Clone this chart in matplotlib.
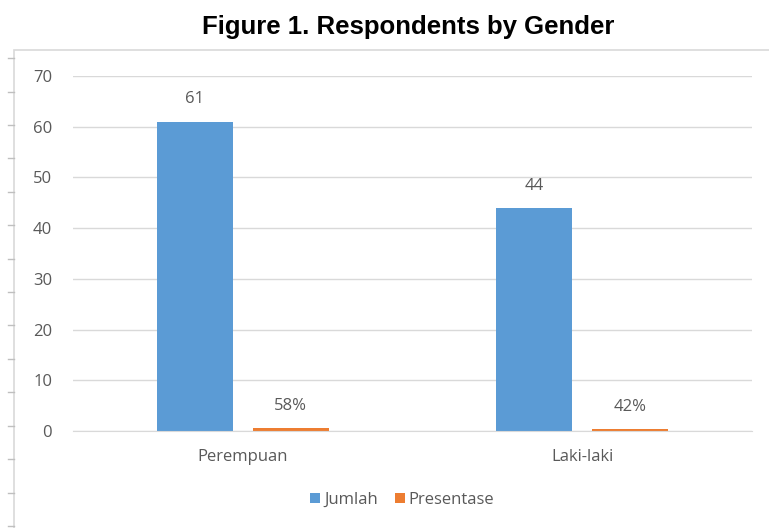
import matplotlib.pyplot as plt
import numpy as np
from matplotlib.patches import Rectangle
from matplotlib.lines import Line2D

# data
categories = ['Perempuan', 'Laki-laki']
jumlah = [61, 44]
presentase = [0.58, 0.42]

blue = '#5B9BD5'
orange = '#ED7D31'
grey_txt = '#595959'

plt.rcParams['font.family'] = ['Open Sans', 'DejaVu Sans']

fig = plt.figure(figsize=(7.69, 5.28), dpi=100)
ax = fig.add_axes([0.0949, 0.1837, 0.883, 0.6723])

x = np.arange(len(categories))
w = 0.224
off = 0.1416
b1 = ax.bar(x - off, jumlah, w, color=blue, label='Jumlah', zorder=3)
b2 = ax.bar(x + off, presentase, w, color=orange, label='Presentase', zorder=3)

for rect, v in zip(b1, jumlah):
    ax.text(rect.get_x() + rect.get_width() / 2, v + 2.8, str(v),
            ha='center', va='bottom', fontsize=12, color=grey_txt)
for rect, v in zip(b2, presentase):
    ax.text(rect.get_x() + rect.get_width() / 2, v + 2.8, f'{v:.0%}',
            ha='center', va='bottom', fontsize=12, color=grey_txt)

ax.set_xlim(-0.5, 1.5)
ax.set_ylim(0, 70)
ax.set_yticks(range(0, 71, 10))
ax.set_xticks(x)
ax.set_xticklabels(categories)
ax.yaxis.grid(True, color='#D9D9D9', linewidth=1, zorder=0)
ax.tick_params(axis='both', length=0, labelsize=12, colors=grey_txt)
ax.tick_params(axis='y', pad=15)
ax.tick_params(axis='x', pad=13)
for s in ['top', 'right', 'left']:
    ax.spines[s].set_visible(False)
ax.spines['bottom'].set_color('#D9D9D9')
ax.spines['bottom'].set_zorder(4)

leg = fig.legend(handles=[b1, b2], loc='center', bbox_to_anchor=(0.523, 0.053),
                 ncol=2, frameon=False, fontsize=12, handlelength=0.6,
                 handleheight=0.6, columnspacing=1.0, handletextpad=0.25)
for t in leg.get_texts():
    t.set_color(grey_txt)

# outer chart frame
fig.patches.append(Rectangle((0.018, -0.02), 1.0, 0.925, transform=fig.transFigure,
                             fill=False, edgecolor='#D9D9D9', linewidth=1.2))
for yy in np.arange(0.89, 0.0, -0.0633):
    fig.lines.append(Line2D([0.010, 0.018], [yy, yy], transform=fig.transFigure,
                            color='#BFBFBF', linewidth=1))

fig.text(0.531, 0.948, 'Figure 1. Respondents by Gender', ha='center', va='center',
         fontsize=18.5, fontweight='bold', family=['Liberation Sans', 'DejaVu Sans'])

fig.savefig('out.png', dpi=100)
